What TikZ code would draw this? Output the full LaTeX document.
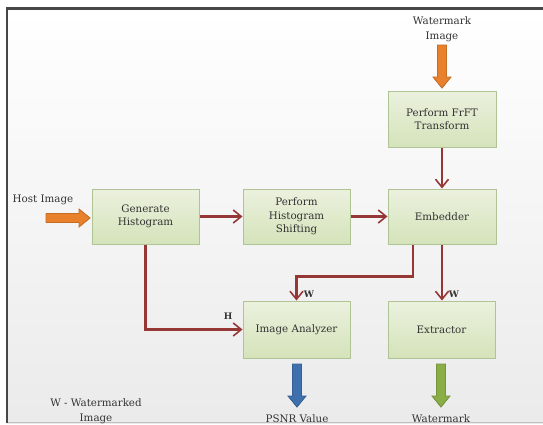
\documentclass[tikz,border=0pt]{standalone}
\usepackage{fontspec}
\setmainfont{DejaVu Serif}
\usetikzlibrary{arrows.meta,calc}
\definecolor{txt}{HTML}{333333}
\definecolor{conn}{HTML}{953735}
\definecolor{boxtop}{HTML}{EBF1DE}
\definecolor{boxbot}{HTML}{D5E3BA}
\definecolor{boxline}{HTML}{AFC394}
\definecolor{orgA}{HTML}{F9B47A}
\definecolor{orgB}{HTML}{E8802C}
\definecolor{bluA}{HTML}{86AEE0}
\definecolor{bluB}{HTML}{3F70AE}
\definecolor{grnA}{HTML}{C2DA8C}
\definecolor{grnB}{HTML}{8AAE46}
\tikzset{
  procbox/.style={draw=boxline, line width=1pt, top color=boxtop, bottom color=boxbot,
    minimum width=107pt, minimum height=55pt, align=center, text=txt,
    font=\fontsize{10.3}{13.5}\selectfont, inner sep=0pt},
  lbl/.style={align=center, text=txt, font=\fontsize{10.3}{15}\selectfont, inner sep=0pt},
  smlbl/.style={text=txt, font=\fontsize{9}{10}\selectfont\bfseries, inner sep=0pt},
  link/.style={draw=conn, line width=2.4pt, -{Straight Barb[length=8pt,width=13pt,line width=1.6pt]}},
}
\newcommand\varrow[5]{% x, y1, y2, light, dark
  \filldraw[draw=#5!85!black, line width=0.8pt, left color=#5, middle color=#4, right color=#5]
    (#1-4.5,#2) -- (#1+4.5,#2) -- (#1+4.5,#3-11) -- (#1+9,#3-11) -- (#1,#3)
    -- (#1-9,#3-11) -- (#1-4.5,#3-11) -- cycle;}
\newcommand\harrow[5]{% y, x1, x2, light, dark
  \filldraw[draw=#5!85!black, line width=0.8pt, top color=#5, middle color=#4, bottom color=#5]
    (#2,#1-4.5) -- (#2,#1+4.5) -- (#3-11,#1+4.5) -- (#3-11,#1+9) -- (#3,#1)
    -- (#3-11,#1-9) -- (#3-11,#1-4.5) -- cycle;}
\begin{document}
\begin{tikzpicture}[x=1pt,y=-1pt]
\useasboundingbox (0,0) rectangle (543,424);
\fill[white] (0,0) rectangle (543,424);
% frame
\fill[top color=white, bottom color=black!8] (7,8.5) rectangle (543,423);
\draw[black!25, line width=1pt] (7,422.5) -- (543,422.5);
\draw[black!72, line width=2.8pt] (7,423) -- (7,8.5) -- (543,8.5);

% boxes
\node[procbox] (gen)   at (145.5,216.5) {Generate\\Histogram};
\node[procbox] (shift) at (296.5,216.5) {Perform\\Histogram\\Shifting};
\node[procbox, minimum width=108pt] (emb)   at (442,216.5) {Embedder};
\node[procbox, minimum width=108pt, minimum height=56pt] (frft)  at (442,119) {Perform FrFT\\Transform};
\node[procbox, minimum height=57pt] (ana)   at (296.5,329.5) {Image Analyzer};
\node[procbox, minimum height=57pt] (ext)   at (441.5,329.5) {Extractor};

% labels
\node[lbl] (wmimg) at (442,29.5) {Watermark\\Image};
\node[lbl] (host)  at (43,200) {Host Image};
\node[lbl] (psnr)  at (297,419) {PSNR Value};
\node[lbl] (wmout) at (441,419) {Watermark};
\node[lbl] (legend) at (96,411) {W - Watermarked\\Image};
\node[smlbl] (hlab)  at (228,316) {H};
\node[smlbl] (wlab1) at (309,294) {W};
\node[smlbl] (wlab2) at (454,294) {W};

% block arrows
\harrow{218}{46}{90}{orgA}{orgB}
\varrow{442}{45}{88}{orgA}{orgB}
\varrow{297}{364}{407}{bluA}{bluB}
\varrow{441}{364}{407}{grnA}{grnB}

% connectors
\draw[link] (gen.east) -- (shift.west);
\draw[link] (shift.east) -- (emb.west);
\draw[link] (frft.south) -- (emb.north);
\draw[link] ([xshift=-29pt]emb.south) -- ++(0,32) -| (ana.north);
\draw[link] (emb.south) -- (emb.south |- ext.north);
\draw[link] (gen.south) |- (ana.west);
\end{tikzpicture}
\end{document}
